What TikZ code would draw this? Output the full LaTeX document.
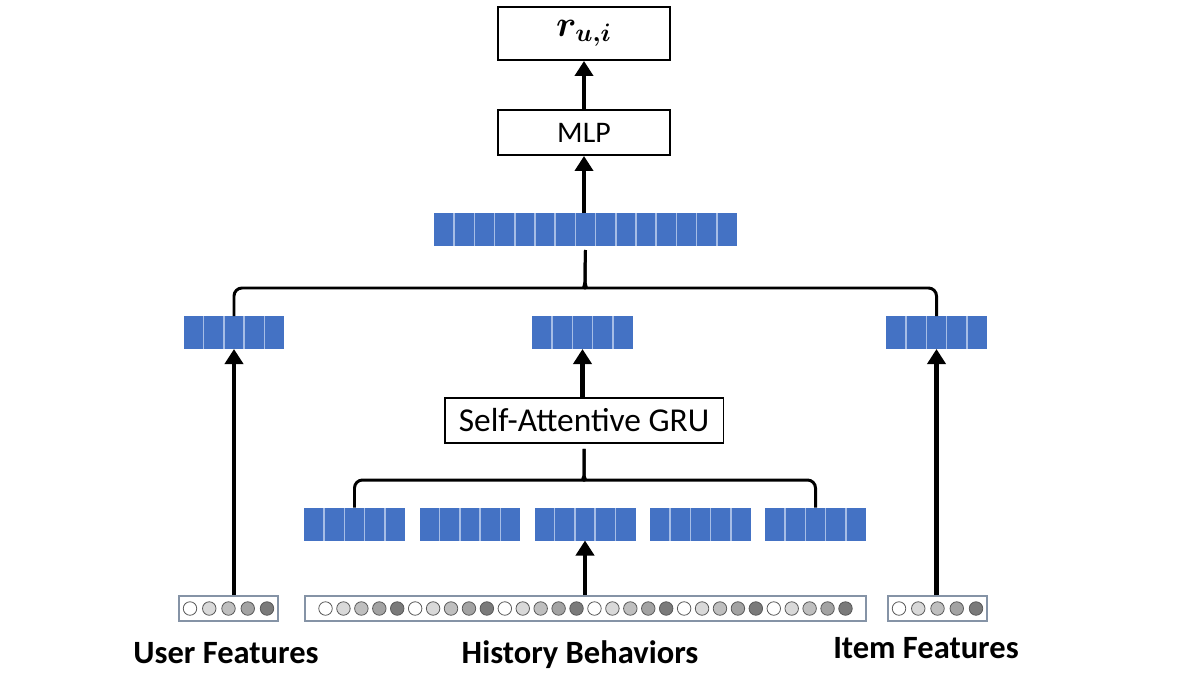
\documentclass[tikz,border=0pt]{standalone}
\usepackage{amsmath,bm}
\usepackage{fontspec}
\setmainfont{Carlito}
\usetikzlibrary{arrows.meta}

\definecolor{barblue}{HTML}{4472C4}
\definecolor{cellline}{HTML}{A6BDE6}
\definecolor{stripgray}{HTML}{8593A6}
\definecolor{dot0}{HTML}{FFFFFF}
\definecolor{dot1}{HTML}{D9D9D9}
\definecolor{dot2}{HTML}{BFBFBF}
\definecolor{dot3}{HTML}{A3A3A3}
\definecolor{dot4}{HTML}{7A7A7A}

\tikzset{
  box/.style={draw, line width=1.1pt, inner sep=0pt},
  vecbar/.style={fill=barblue, minimum height=0.66cm, inner sep=0pt, outer sep=0pt},
  cellsep/.style={draw=cellline, line width=0.85pt},
  strip/.style={draw=stripgray, line width=0.9pt, minimum height=0.5cm, inner sep=0pt},
  dot/.style={draw=black!65, line width=0.45pt},
  flow/.style={line width=2.8pt, -{Triangle[width=0.36cm,length=0.3cm]}},
  brace/.style={line width=1.7pt, rounded corners=0.16cm},
  lbl/.style={font=\bfseries\fontsize{18.5}{20}\selectfont, anchor=base}
}

% a row of blue cells: name, x, y, cells
\newcommand{\featvec}[4]{%
  \node[vecbar, minimum width=#4*0.404cm] (#1) at (#2,#3) {};
  \foreach \k in {1,...,#4}{%
    \ifnum\k<#4
      \draw[cellsep] ([xshift=\k*0.404cm]#1.south west) -- ([xshift=\k*0.404cm]#1.north west);
    \fi}%
}

% a one-hot strip of grey dots: name, x, y, width, dots, spacing
\newcommand{\featstrip}[6]{%
  \node[strip, minimum width=#4*0.02cm] (#1) at (#2,#3) {};
  \foreach \k in {1,...,#5}{%
    \pgfmathtruncatemacro\shade{mod(\k-1,5)}
    \draw[dot, fill=dot\shade] (#2+\k*#6-#6/2-#5*#6/2,#3) circle[radius=0.135cm];}%
}

\begin{document}
\begin{tikzpicture}[x=0.02cm,y=-0.02cm]
  \useasboundingbox (0,0) rectangle (1196,673);

  \node[box, minimum width=3.44cm, minimum height=1.06cm] (r) at (584,33.5)
    {\fontsize{21}{24}\selectfont$\bm{r_{u,i}}$};
  \node[box, minimum width=3.44cm, minimum height=0.9cm,
    font=\fontsize{17}{20}\selectfont] (mlp) at (584,132.5) {MLP};

  \featvec{concat}{585.5}{229.5}{15}

  \featvec{uvec}{234}{332.5}{5}
  \featvec{hvec}{582.5}{332.5}{5}
  \featvec{ivec}{936.5}{332.5}{5}

  \node[box, minimum width=5.58cm, minimum height=0.9cm,
    font=\fontsize{19}{22}\selectfont] (gru) at (584,420.5) {Self-Attentive GRU};

  \featvec{h1}{354.5}{524}{5}
  \featvec{h2}{470}{524}{5}
  \featvec{h3}{585}{524}{5}
  \featvec{h4}{700.5}{524}{5}
  \featvec{h5}{815.5}{524}{5}

  \featstrip{ubox}{228.5}{608.5}{99}{5}{19.25}
  \featstrip{hbox}{585.5}{608.5}{561}{30}{17.93}
  \featstrip{ibox}{937.5}{608.5}{99}{5}{19.25}

  \node[lbl] (ulbl) at (226,663) {User Features};
  \node[lbl] (hlbl) at (580,663) {History Behaviors};
  \node[lbl] (ilbl) at (926,658) {Item Features};

  % arrows
  \draw[flow] (mlp.north) -- (r.south);
  \draw[flow] (concat.north -| mlp.south) -- (mlp.south);
  \draw[flow] (gru.north -| hvec.south) -- (hvec.south);
  \draw[flow] (ubox.north -| uvec.south) -- (uvec.south);
  \draw[flow] (ibox.north -| ivec.south) -- (ivec.south);
  \draw[flow] (hbox.north -| h3.south) -- (h3.south);

  % braces
  \coordinate (tip1) at ([yshift=-0.08cm]concat.south);
  \draw[brace] (uvec.north) |- (576,288) .. controls (583,288) and (585,284) .. (585,274) -- (tip1);
  \draw[brace] (ivec.north) |- (594,288) .. controls (587,288) and (585,284) .. (585,274) -- (tip1);

  \coordinate (tip2) at ([yshift=-0.1cm]gru.south);
  \draw[brace] (h1.north) |- (575,480) .. controls (582,480) and (584,476) .. (584,468) -- (tip2);
  \draw[brace] (h5.north) |- (593,480) .. controls (586,480) and (584,476) .. (584,468) -- (tip2);
\end{tikzpicture}
\end{document}
